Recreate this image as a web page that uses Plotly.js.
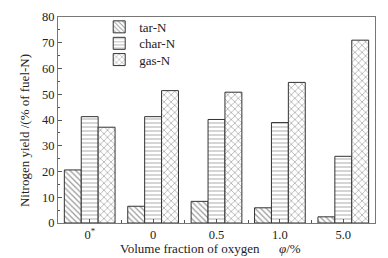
<!DOCTYPE html>
<html><head><meta charset="utf-8">
<script src="https://cdn.plot.ly/plotly-3.0.1.min.js"></script>
<style>html,body{margin:0;padding:0;background:#fff}#c{width:388px;height:258px}</style>
</head><body><div id="c"></div>
<script>
const categories = ["0<sup>*</sup>", "0", "0.5", "1.0", "5.0"];
const tarN = [20.6, 6.5, 8.4, 5.9, 2.4];
const charN = [41.3, 41.3, 40.2, 39.0, 25.9];
const gasN = [37.2, 51.4, 50.8, 54.6, 71.0];
const seriesNames = ["tar-N", "char-N", "gas-N"];

const xs = categories.map((c, i) => i);
const font = {family: "Liberation Serif", size: 12.5, color: "#222"};
const tfont = {family: "Liberation Serif", size: 13, color: "#222"};
function tr(name, y, shape, size, sol, fg, leg) {
  return {type: "bar", name: name, x: xs, y: y, legend: leg,
    marker: {color: "#fff", line: {color: "#333", width: 1},
      pattern: {shape: shape, fgcolor: fg, bgcolor: "#fff", size: size, solidity: sol, fillmode: "overlay"}}};
}
const data = [
  tr(seriesNames[0], tarN, "\\", 4, 0.3, "#333", "legend"),
  tr(seriesNames[1], charN, "-", 4, 0.25, "#555", "legend2"),
  tr(seriesNames[2], gasN, "x", 5, 0.22, "#222", "legend3")
];
function leg(y) {
  return {x: 0.13, y: y, xanchor: "left", yanchor: "middle", bgcolor: "rgba(0,0,0,0)",
    font: tfont, itemwidth: 30};
}
const layout = {
  width: 388, height: 258,
  margin: {l: 58, r: 13, t: 15, b: 35},
  paper_bgcolor: "#fff", plot_bgcolor: "#fff",
  font: font,
  barmode: "group", bargap: 0.2, bargroupgap: 0,
  showlegend: true,
  legend: leg(0.952), legend2: leg(0.872), legend3: leg(0.793),
  xaxis: {range: [-0.5, 4.5], tickvals: xs, ticktext: categories,
    ticks: "inside", ticklen: 4, tickcolor: "#555",
    showline: true, linecolor: "#777", linewidth: 1, mirror: true,
    showgrid: false, zeroline: false, tickfont: font,
    minor: {tickvals: [0.5, 1.5, 2.5, 3.5], ticks: "inside", ticklen: 3, tickcolor: "#555"}},
  yaxis: {range: [0, 80], dtick: 10, ticks: "inside", ticklen: 4, tickcolor: "#555",
    showline: true, linecolor: "#777", linewidth: 1, mirror: true,
    showgrid: false, zeroline: false, tickfont: font,
    minor: {dtick: 5, ticks: "inside", ticklen: 2, tickcolor: "#555"}},
  annotations: [
    {text: "Volume fraction of oxygen      <i>φ</i>/%", xref: "paper", yref: "paper",
     x: 0.48, y: -0.08, xanchor: "center", yanchor: "top", showarrow: false, font: tfont},
    {text: "Nitrogen yield /(% of fuel-N)", xref: "paper", yref: "paper", textangle: -90,
     x: -0.105, y: 0.45, xanchor: "center", yanchor: "middle", showarrow: false, font: tfont}
  ]
};
Plotly.newPlot("c", data, layout, {displayModeBar: false, staticPlot: true});
</script></body></html>
